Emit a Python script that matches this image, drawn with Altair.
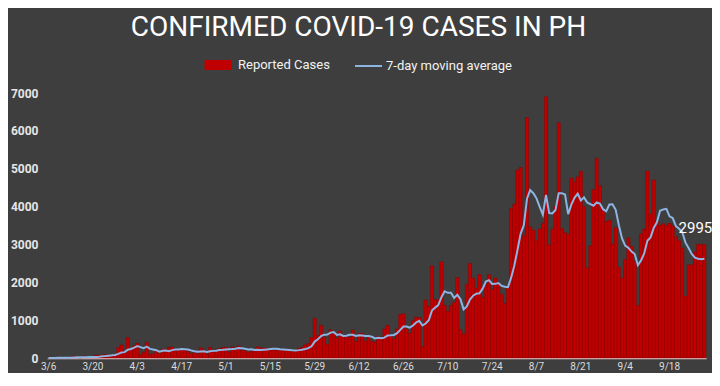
import altair as alt
import pandas as pd

# Daily reported cases, 3/6 .. 9/29
march = [2, 1, 4, 14, 9, 16, 3, 12, 47, 29, 2, 45, 15, 15, 13, 77, 73, 82, 90, 84,
         71, 96, 272, 343, 128, 538]
april = [227, 322, 385, 76, 152, 414, 104, 106, 206, 119, 233, 220, 284, 291, 200,
         220, 207, 209, 172, 112, 140, 111, 271, 211, 102, 285, 198, 181, 254, 276]
may = [284, 156, 295, 262, 320, 199, 195, 147, 180, 184, 292, 264, 268, 258, 215,
       208, 208, 205, 213, 224, 213, 163, 180, 258, 284, 350, 380, 539, 1046, 590, 862]
june = [552, 359, 751, 634, 518, 714, 555, 579, 545, 740, 442, 640, 656, 450, 575,
        443, 420, 563, 539, 767, 863, 598, 507, 768, 1150, 1168, 764, 653, 985, 1080]
july = [1068, 294, 1531, 1368, 2434, 1540, 1540, 2539, 1395, 1233, 1387, 1469, 2124,
        747, 634, 1951, 2498, 2103, 1841, 2200, 1594, 1951, 2200, 1812, 2110, 1987,
        1678, 1440, 1874, 3954, 4063]
august = [4963, 5032, 3226, 6352, 3462, 3379, 3109, 3407, 3560, 6900, 2987, 3400,
          4002, 6216, 3420, 3314, 3266, 4749, 4650, 4786, 4933, 4002, 2378, 2965,
          4444, 5277, 4551, 3900, 3600, 3637, 3000]
september = [3446, 2400, 2110, 2600, 3176, 2944, 2550, 1383, 3281, 3400, 4935, 3800,
             4699, 3600, 3500, 3544, 3500, 3550, 3490, 3200, 3100, 2900, 1635, 2460,
             2460, 2800, 3000, 3000, 2995]

cases = march + april + may + june + july + august + september
dates = pd.date_range("2020-03-06", periods=len(cases), freq="D")
days = [f"{d.month}/{d.day}" for d in dates]

tick_labels = ["3/6", "3/20", "4/3", "4/17", "5/1", "5/15", "5/29", "6/12", "6/26",
               "7/10", "7/24", "8/7", "8/21", "9/4", "9/18"]
y_ticks = [0, 1000, 2000, 3000, 4000, 5000, 6000, 7000]

title_text = "CONFIRMED COVID-19 CASES IN PH"
bar_name = "Reported Cases"
line_name = "7-day moving average"

df = pd.DataFrame({"idx": list(range(len(cases))), "day": days, "cases": cases})

FONT = "Roboto"

x_scale = alt.Scale(domain=days, paddingInner=0, paddingOuter=0)
x_axis = alt.Axis(
    values=tick_labels, title=None, labelAngle=0, ticks=False,
    labelColor="#dcdcdc", labelFontSize=10, labelFont=FONT, labelPadding=3,
    domainColor="#e8cdd0", domainWidth=1.5, labelOverlap=False,
)
y_scale = alt.Scale(domain=[0, 7000], nice=False)
y_axis = alt.Axis(
    values=y_ticks, format="d", title=None, grid=False, domain=False,
    ticks=False, labelColor="#e6e6e6", labelFontSize=12, labelFont=FONT,
    labelPadding=9, labelFontWeight="bold", labelOverlap=False, tickCount=8,
)

base = alt.Chart(df)

bars = base.mark_bar(stroke="#8a0000", strokeWidth=0.5).transform_calculate(
    series=f"'{bar_name}'"
).encode(
    x=alt.X("day:N", scale=x_scale, axis=x_axis),
    y=alt.Y("cases:Q", scale=y_scale, axis=y_axis),
    fill=alt.Fill(
        "series:N",
        scale=alt.Scale(domain=[bar_name], range=["#c00000"]),
        legend=alt.Legend(
            title=None, orient="none", legendX=161, legendY=-38, padding=0,
            symbolType="M-1.35,-0.5H1.35V0.5H-1.35Z", symbolSize=400,
            symbolStrokeWidth=0, labelOffset=10, labelColor="#f2f2f2",
            labelFontSize=13, labelFont=FONT,
        ),
    ),
)

line = base.transform_window(
    ma="mean(cases)", frame=[-6, 0], sort=[alt.SortField("idx")]
).transform_calculate(
    series2=f"'{line_name}'"
).mark_line(strokeWidth=2).encode(
    x=alt.X("day:N", scale=x_scale, axis=x_axis),
    y=alt.Y("ma:Q", scale=y_scale, axis=y_axis),
    stroke=alt.Stroke(
        "series2:N",
        scale=alt.Scale(domain=[line_name], range=["#8db4e2"]),
        legend=alt.Legend(
            title=None, orient="none", legendX=307, legendY=-41.5, padding=0,
            symbolType="stroke", symbolSize=729, symbolStrokeWidth=2,
            labelOffset=3, labelColor="#f2f2f2", labelFontSize=13, labelFont=FONT,
        ),
    ),
)

label = base.transform_filter(
    alt.datum.idx == len(cases) - 1
).mark_text(
    color="white", fontSize=15, font=FONT, align="center", baseline="middle",
    dx=-9, dy=-17,
).encode(
    x=alt.X("day:N", scale=x_scale, axis=x_axis),
    y=alt.Y("cases:Q", scale=y_scale, axis=y_axis),
    text=alt.Text("cases:Q", format="d"),
)

chart = alt.layer(bars, line, label).resolve_scale(
    fill="independent", stroke="independent"
).properties(
    width=659,
    height=265,
    background="#3e3e3e",
    padding={"left": 39, "top": 85, "right": 6, "bottom": 15},
    autosize=alt.AutoSizeParams(type="none"),
    title=alt.TitleParams(
        title_text, fontSize=28, font=FONT, color="white", fontWeight="normal",
        anchor="middle", frame="group", dx=-18, offset=10,
    ),
).configure_view(stroke=None).configure_axisY(labelOverlap=False)

chart.save("out.html", embed_options={"renderer": "svg", "actions": False})
